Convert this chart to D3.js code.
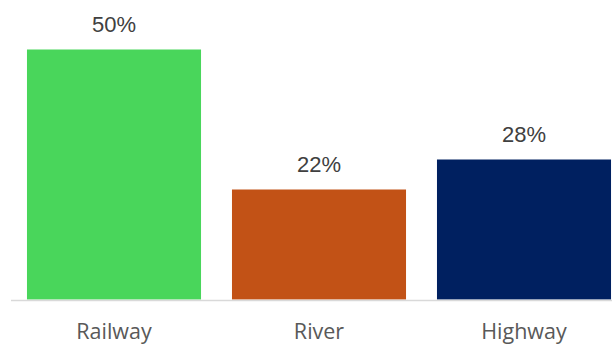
<!DOCTYPE html>
<html><head><meta charset="utf-8">
<script src="https://cdn.jsdelivr.net/npm/d3@7"></script>
<style>body{margin:0;background:#fff}svg{display:block}</style>
</head><body>
<svg id="c" width="612" height="345"></svg>
<script>
const categories = ["Railway", "River", "Highway"];
const values = [50, 22, 28];
const colors = ["#49D65B", "#C25216", "#002060"];

const svg = d3.select("#c");
const x = d3.scaleBand().domain(categories).range([11.6, 626.4]).paddingInner(0.151).paddingOuter(0.075);
const y = d3.scaleLinear().domain([0, 50]).range([299.5, 49.5]);

svg.selectAll("rect.bar").data(categories).join("rect")
  .attr("class", "bar")
  .attr("x", d => x(d))
  .attr("width", x.bandwidth())
  .attr("y", (d, i) => y(values[i]))
  .attr("height", (d, i) => y(0) - y(values[i]))
  .attr("fill", (d, i) => colors[i]);

svg.append("line").attr("x1", 11).attr("x2", 612).attr("y1", 300.5).attr("y2", 300.5)
  .attr("stroke", "#D9D9D9").attr("stroke-width", 1.5);

svg.selectAll("text.val").data(categories).join("text")
  .attr("class", "val")
  .attr("x", d => x(d) + x.bandwidth() / 2)
  .attr("y", (d, i) => y(values[i]) - 18)
  .attr("text-anchor", "middle")
  .attr("font-family", "Liberation Sans, Arial, sans-serif")
  .attr("font-size", 22)
  .attr("fill", "#404040")
  .text((d, i) => values[i] + "%");

const xAxis = d3.axisBottom(x).tickSize(0).tickPadding(0);
const g = svg.append("g").attr("transform", "translate(0,300)").call(xAxis);
g.select(".domain").remove();
g.selectAll("text").attr("y", 38.5).attr("dy", 0)
  .attr("font-family", "Open Sans, sans-serif")
  .attr("font-size", 21.5).attr("fill", "#595959");
</script>
</body></html>
